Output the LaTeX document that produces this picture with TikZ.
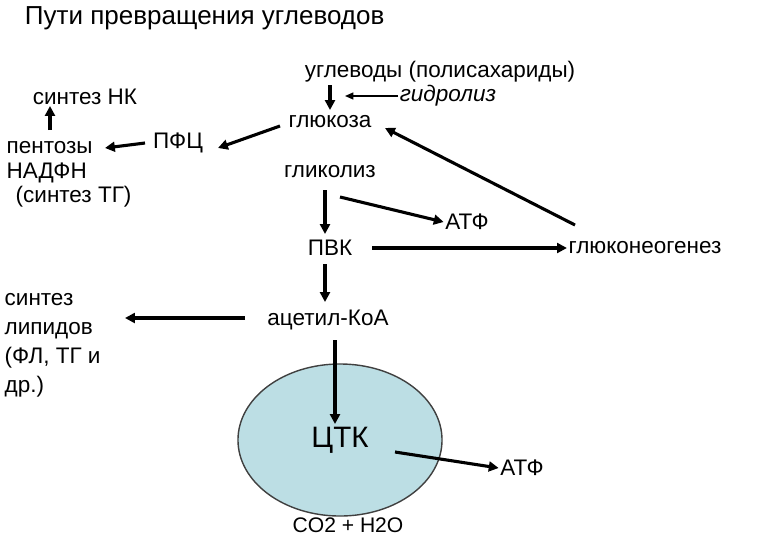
\documentclass[tikz,border=0pt]{standalone}
\usepackage{fontspec}
\setmainfont{Liberation Sans}
\usetikzlibrary{arrows.meta,shapes.geometric}
\begin{document}
\begin{tikzpicture}[x=0.025cm,y=-0.025cm,
 lbl/.style={font=\fontsize{16}{18}\selectfont,inner sep=1pt},
 thk/.style={line width=2.2pt,-{Triangle[length=7pt,width=7pt]}},
 thn/.style={line width=1pt,-{Triangle[length=6pt,width=5pt]}}]
\useasboundingbox (0,0) rectangle (780,540);
\node[anchor=west,font=\fontsize{18.5}{20}\selectfont] (title) at (20,18) {Пути превращения углеводов};
\node[lbl] (ug) at (440,72) {углеводы (полисахариды)};
\node[lbl,font=\fontsize{16}{18}\selectfont\itshape] (gid) at (448,96) {гидролиз};
\node[lbl] (nk) at (85,97) {синтез НК};
\node[lbl] (glu) at (330,122) {глюкоза};
\node[lbl,anchor=west] (pent) at (5,148) {пентозы};
\node[lbl] (pfc) at (178,143) {ПФЦ};
\node[lbl,anchor=west] (nadf) at (5,173) {НАДФН};
\node[lbl,anchor=west] (stg) at (14,197) {(синтез ТГ)};
\node[lbl] (gli) at (330,172) {гликолиз};
\node[lbl] (atf1) at (467,222) {АТФ};
\node[lbl] (pvk) at (330,248) {ПВК};
\node[lbl] (gng) at (645,248) {глюконеогенез};
\node[lbl,anchor=north west,align=left,font=\fontsize{16}{20.5}\selectfont] (lip) at (3,292) {синтез\\липидов\\(ФЛ, ТГ и\\др.)};
\node[lbl] (acoa) at (328,320) {ацетил-КоА};
\node[draw=black!75,line width=1pt,fill={rgb,255:red,188;green,222;blue,228},ellipse,minimum width=5.1cm,minimum height=3.8cm,inner sep=0] (ell) at (340,440) {};
\node[font=\fontsize{21}{23}\selectfont,inner sep=1pt] (ctk) at (340,440) {ЦТК};
\node[lbl] (atf2) at (522,468) {АТФ};
\node[lbl,font=\fontsize{15}{17}\selectfont] (co2) at (348,525) {CO2 + H2O};
% arrows
\draw[thk] (330,85) -- (330,110);
\draw[thn] (gid.west) -- (345,96);
\draw[thk] (50,130) -- (50,106);
\draw[thk] (145,143) -- (105,148);
\draw[thk] (280,126) -- (218,148);
\draw[thk] (325,190) -- (325,234);
\draw[thk] (340,197) -- (atf1.west);
\draw[thk] (372,248) -- (gng.west);
\draw[thk] (575,225) -- (385,128);
\draw[thk] (325,264) -- (325,302);
\draw[thk] (245,318) -- (125,318);
\draw[thk] (335,340) -- (335,424);
\draw[thk] (395,452) -- (atf2.west);
\end{tikzpicture}
\end{document}
